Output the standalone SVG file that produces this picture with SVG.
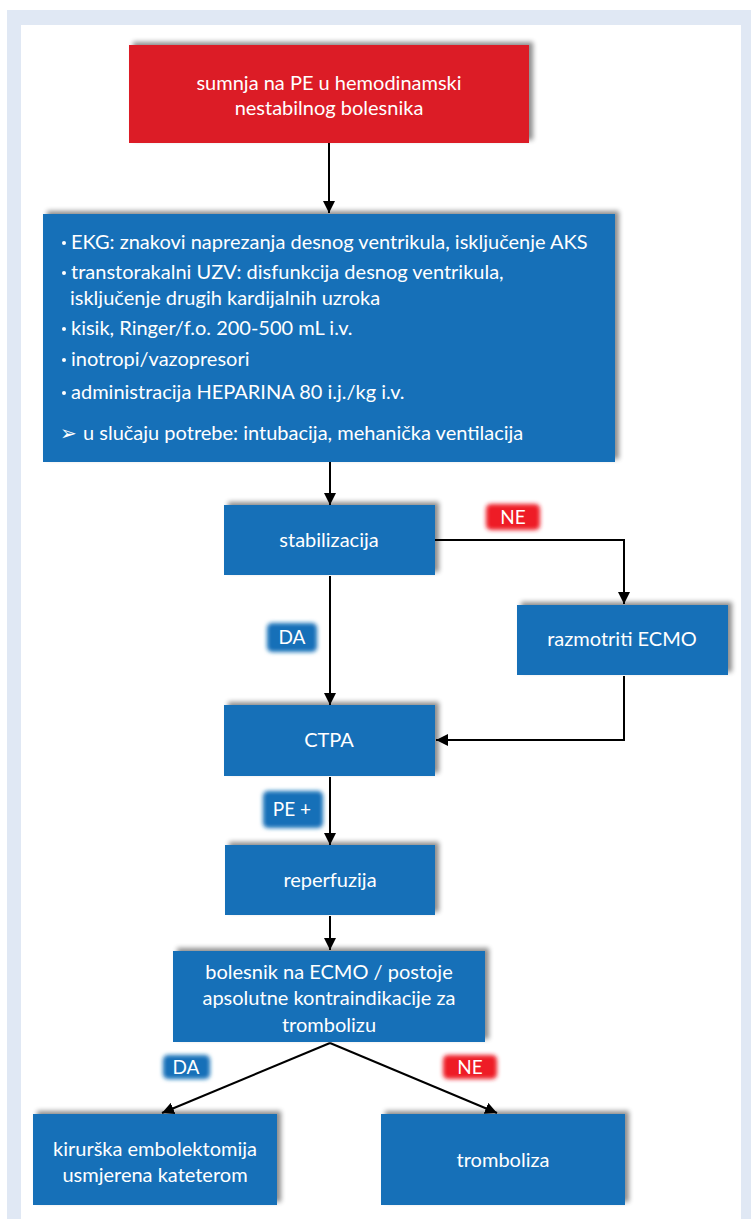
<svg xmlns="http://www.w3.org/2000/svg" width="751" height="1219" viewBox="0 0 751 1219">
  <defs>
    <style>
      .box { fill: #1570b8; }
      .red { fill: #dc1f26; }
      .t { font-family: Lato, "Liberation Sans", sans-serif; font-size: 20px; fill: #ffffff; }
      .c { text-anchor: middle; }
      .lbl { font-family: Lato, "Liberation Sans", sans-serif; font-size: 19px; fill: #ffffff; text-anchor: middle; }
      .dot { fill: #ffffff; }
      .conn { stroke: #000; stroke-width: 2; fill: none; }
    </style>
    <filter id="shadow" x="-10%" y="-20%" width="120%" height="140%">
      <feGaussianBlur in="SourceAlpha" stdDeviation="2.5"/>
      <feOffset dx="4" dy="-3" result="b"/>
      <feComponentTransfer><feFuncA type="linear" slope="0.45"/></feComponentTransfer>
      <feMerge><feMergeNode/><feMergeNode in="SourceGraphic"/></feMerge>
    </filter>
    <filter id="glow" x="-30%" y="-40%" width="160%" height="180%">
      <feGaussianBlur stdDeviation="2"/>
    </filter>
    <marker id="arr" viewBox="0 0 10 10" refX="10" refY="5" markerWidth="6" markerHeight="6" orient="auto" markerUnits="strokeWidth">
      <path d="M0,0 L10,5 L0,10 z" fill="#000"/>
    </marker>
  </defs>

  <!-- page frame -->
  <rect x="7" y="10" width="744" height="1209" fill="#e0e8f4"/>
  <rect x="21" y="25" width="720" height="1194" fill="#ffffff"/>

  <!-- connectors -->
  <g id="connectors">
    <line class="conn" x1="329" y1="143" x2="329" y2="213" marker-end="url(#arr)"/>
    <line class="conn" x1="330" y1="462" x2="330" y2="505" marker-end="url(#arr)"/>
    <polyline class="conn" points="435,540 624,540 624,604" marker-end="url(#arr)"/>
    <line class="conn" x1="330" y1="576" x2="330" y2="705" marker-end="url(#arr)"/>
    <polyline class="conn" points="624,676 624,740 436,740" marker-end="url(#arr)"/>
    <line class="conn" x1="330" y1="777" x2="330" y2="845" marker-end="url(#arr)"/>
    <line class="conn" x1="330" y1="916" x2="330" y2="950" marker-end="url(#arr)"/>
    <line class="conn" x1="330" y1="1043" x2="162" y2="1113" marker-end="url(#arr)"/>
    <line class="conn" x1="330" y1="1043" x2="497" y2="1113" marker-end="url(#arr)"/>
  </g>

  <!-- edge labels -->
  <g id="label-ne-1">
    <rect x="486" y="504" width="54" height="26" rx="5" fill="#ee1c25" filter="url(#glow)"/>
    <text class="lbl" x="513" y="524">NE</text>
  </g>
  <g id="label-da-1">
    <rect x="267" y="623" width="50" height="29" rx="5" fill="#1570b8" filter="url(#glow)"/>
    <text class="lbl" x="292" y="644">DA</text>
  </g>
  <g id="label-pe">
    <rect x="263" y="791" width="60" height="37" rx="5" fill="#1570b8" filter="url(#glow)"/>
    <text class="lbl" x="292" y="816">PE +</text>
  </g>
  <g id="label-da-2">
    <rect x="163" y="1055" width="47" height="24" rx="5" fill="#1570b8" filter="url(#glow)"/>
    <text class="lbl" x="186" y="1074">DA</text>
  </g>
  <g id="label-ne-2">
    <rect x="443" y="1055" width="54" height="24" rx="5" fill="#ee1c25" filter="url(#glow)"/>
    <text class="lbl" x="470" y="1074">NE</text>
  </g>

  <!-- nodes -->
  <g id="node-sumnja">
    <rect class="red" x="129" y="45" width="400" height="98" filter="url(#shadow)"/>
    <text class="t c" x="329" y="90">sumnja na PE u hemodinamski</text>
    <text class="t c" x="329" y="115">nestabilnog bolesnika</text>
  </g>

  <g id="node-mjere">
    <rect class="box" x="43" y="214" width="572" height="248" filter="url(#shadow)"/>
    <g class="t">
      <circle class="dot" cx="64" cy="243" r="2"/><text x="71" y="249">EKG: znakovi naprezanja desnog ventrikula, isključenje AKS</text>
      <circle class="dot" cx="64" cy="273" r="2"/><text x="71" y="279">transtorakalni UZV: disfunkcija desnog ventrikula,</text>
      <text x="70" y="305">isključenje drugih kardijalnih uzroka</text>
      <circle class="dot" cx="64" cy="329" r="2"/><text x="71" y="335">kisik, Ringer/f.o. 200-500 mL i.v.</text>
      <circle class="dot" cx="64" cy="360" r="2"/><text x="71" y="366">inotropi/vazopresori</text>
      <circle class="dot" cx="64" cy="393" r="2"/><text x="71" y="399">administracija HEPARINA 80 i.j./kg i.v.</text>
      <text x="60" y="440">➢</text><text x="83" y="440">u slučaju potrebe: intubacija, mehanička ventilacija</text>
    </g>
  </g>

  <g id="node-stabilizacija">
    <rect class="box" x="224" y="505" width="211" height="70" filter="url(#shadow)"/>
    <text class="t c" x="329" y="547">stabilizacija</text>
  </g>

  <g id="node-ecmo">
    <rect class="box" x="517" y="605" width="211" height="70" filter="url(#shadow)"/>
    <text class="t c" x="622" y="646">razmotriti ECMO</text>
  </g>

  <g id="node-ctpa">
    <rect class="box" x="224" y="705" width="211" height="71" filter="url(#shadow)"/>
    <text class="t c" x="329" y="747">CTPA</text>
  </g>

  <g id="node-reperfuzija">
    <rect class="box" x="225" y="845" width="210" height="70" filter="url(#shadow)"/>
    <text class="t c" x="330" y="887">reperfuzija</text>
  </g>

  <g id="node-kontraindikacije">
    <rect class="box" x="173" y="951" width="312" height="91" filter="url(#shadow)"/>
    <text class="t c" x="329" y="979">bolesnik na ECMO / postoje</text>
    <text class="t c" x="329" y="1005">apsolutne kontraindikacije za</text>
    <text class="t c" x="329" y="1032">trombolizu</text>
  </g>

  <g id="node-embolektomija">
    <rect class="box" x="33" y="1114" width="244" height="91" filter="url(#shadow)"/>
    <text class="t c" x="155" y="1156">kirurška embolektomija</text>
    <text class="t c" x="155" y="1182">usmjerena kateterom</text>
  </g>

  <g id="node-tromboliza">
    <rect class="box" x="381" y="1114" width="244" height="91" filter="url(#shadow)"/>
    <text class="t c" x="503" y="1167">tromboliza</text>
  </g>
</svg>
